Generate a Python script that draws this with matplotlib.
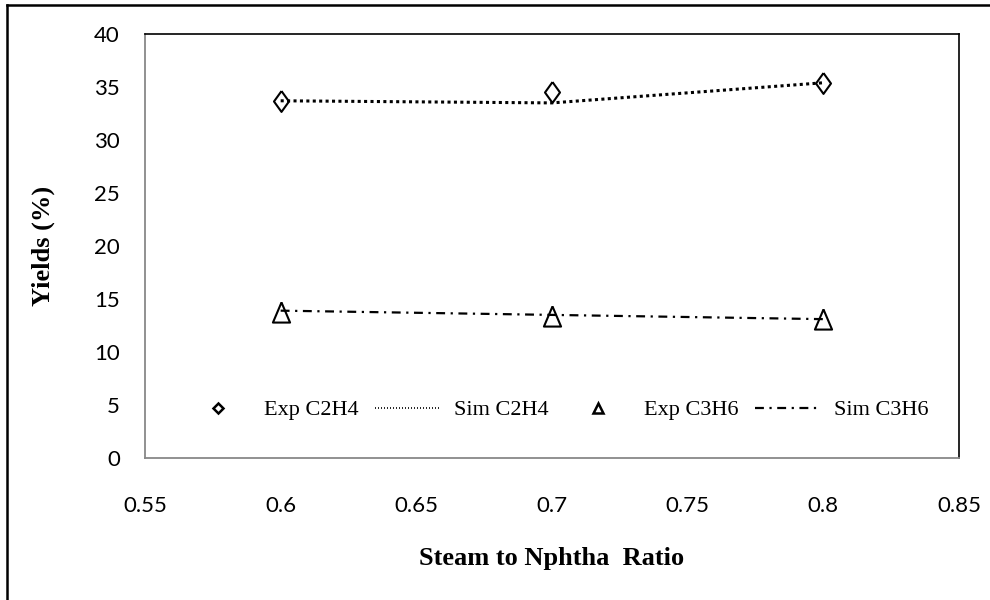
import matplotlib
matplotlib.use("Agg")
import matplotlib.pyplot as plt
from matplotlib.lines import Line2D

x = [0.6, 0.7, 0.8]
exp_c2h4 = [33.7, 34.5, 35.4]
sim_c2h4 = [33.7, 33.5, 35.4]
exp_c3h6 = [13.8, 13.4, 13.1]
sim_c3h6 = [13.9, 13.5, 13.1]
xticks = [0.55, 0.6, 0.65, 0.7, 0.75, 0.8, 0.85]
yticks = [0, 5, 10, 15, 20, 25, 30, 35, 40]
labels = ['Exp C2H4', 'Sim C2H4', 'Exp C3H6', 'Sim C3H6']

tri = [(0, 1), (-0.85, -1), (0.85, -1), (0, 1)]
dia = [(0, 1), (-0.72, 0), (0, -1), (0.72, 0), (0, 1)]
dashdot = (0, (4, 2.5, 1, 2.5))

fig = plt.figure(figsize=(9.9, 6.0), dpi=100)
L, R, T, B = 145, 959, 34, 458
ax = fig.add_axes([L/990, 1 - B/600, (R-L)/990, (B-T)/600])

ax.plot(x, sim_c2h4, color='black', linestyle=(0, (1, 1.1)), linewidth=2.2,
        dash_capstyle='butt', zorder=2)
ax.plot(x, exp_c2h4, linestyle='none', marker=dia, markersize=15, markerfacecolor='none',
        markeredgecolor='black', markeredgewidth=1.5, zorder=3)
ax.plot(x, sim_c3h6, color='black', linestyle=dashdot, linewidth=1.6, zorder=2)
ax.plot(x, exp_c3h6, linestyle='none', marker=tri, markersize=14.5, markerfacecolor='none',
        markeredgecolor='black', markeredgewidth=1.5, zorder=3)

ax.set_xlim(0.55, 0.85)
ax.set_ylim(0, 40)
ax.set_xticks(xticks)
ax.set_xticklabels([f"{v:g}" for v in xticks])
ax.set_yticks(yticks)
ax.set_yticklabels([str(v) for v in yticks])
ax.tick_params(axis='both', length=0, labelsize=16)
ax.tick_params(axis='x', pad=27)
ax.tick_params(axis='y', pad=18)
for lab in ax.get_xticklabels() + ax.get_yticklabels():
    lab.set_fontfamily(['Lato', 'DejaVu Sans'])

for s in ['left', 'bottom']:
    ax.spines[s].set_color('#888888')
    ax.spines[s].set_linewidth(1.3)
for s in ['top', 'right']:
    ax.spines[s].set_color('black')
    ax.spines[s].set_linewidth(1.2)

ax.set_xlabel('Steam to Nphtha  Ratio', fontfamily='Liberation Serif', fontweight='bold',
              fontsize=19, labelpad=23)
ax.set_ylabel('Yields (%)', fontfamily='Liberation Serif', fontweight='bold',
              fontsize=19, labelpad=28)

leg_handles = [
    Line2D([], [], linestyle='none', marker='D', markersize=5.5, markerfacecolor='none',
           markeredgecolor='black', markeredgewidth=1.8),
    Line2D([], [], color='black', linestyle=(0, (0.6, 1.2)), linewidth=1.2),
    Line2D([], [], linestyle='none', marker='^', markersize=7, markerfacecolor='none',
           markeredgecolor='black', markeredgewidth=1.8),
    Line2D([], [], color='black', linestyle=dashdot, linewidth=1.6),
]
ax.legend(leg_handles, labels, loc='center', bbox_to_anchor=(0.5055, 0.113),
          ncol=4, frameon=False, prop={'family': 'Liberation Serif', 'size': 16},
          handlelength=2.97, columnspacing=0.74, handletextpad=0.585)

fig.add_artist(Line2D([7/990, 7/990], [0, 1 - 5/600], transform=fig.transFigure,
                      color='black', linewidth=1.8))
fig.add_artist(Line2D([7/990, 1], [1 - 5/600, 1 - 5/600], transform=fig.transFigure,
                      color='black', linewidth=1.8))

fig.savefig('out.png', dpi=100)
